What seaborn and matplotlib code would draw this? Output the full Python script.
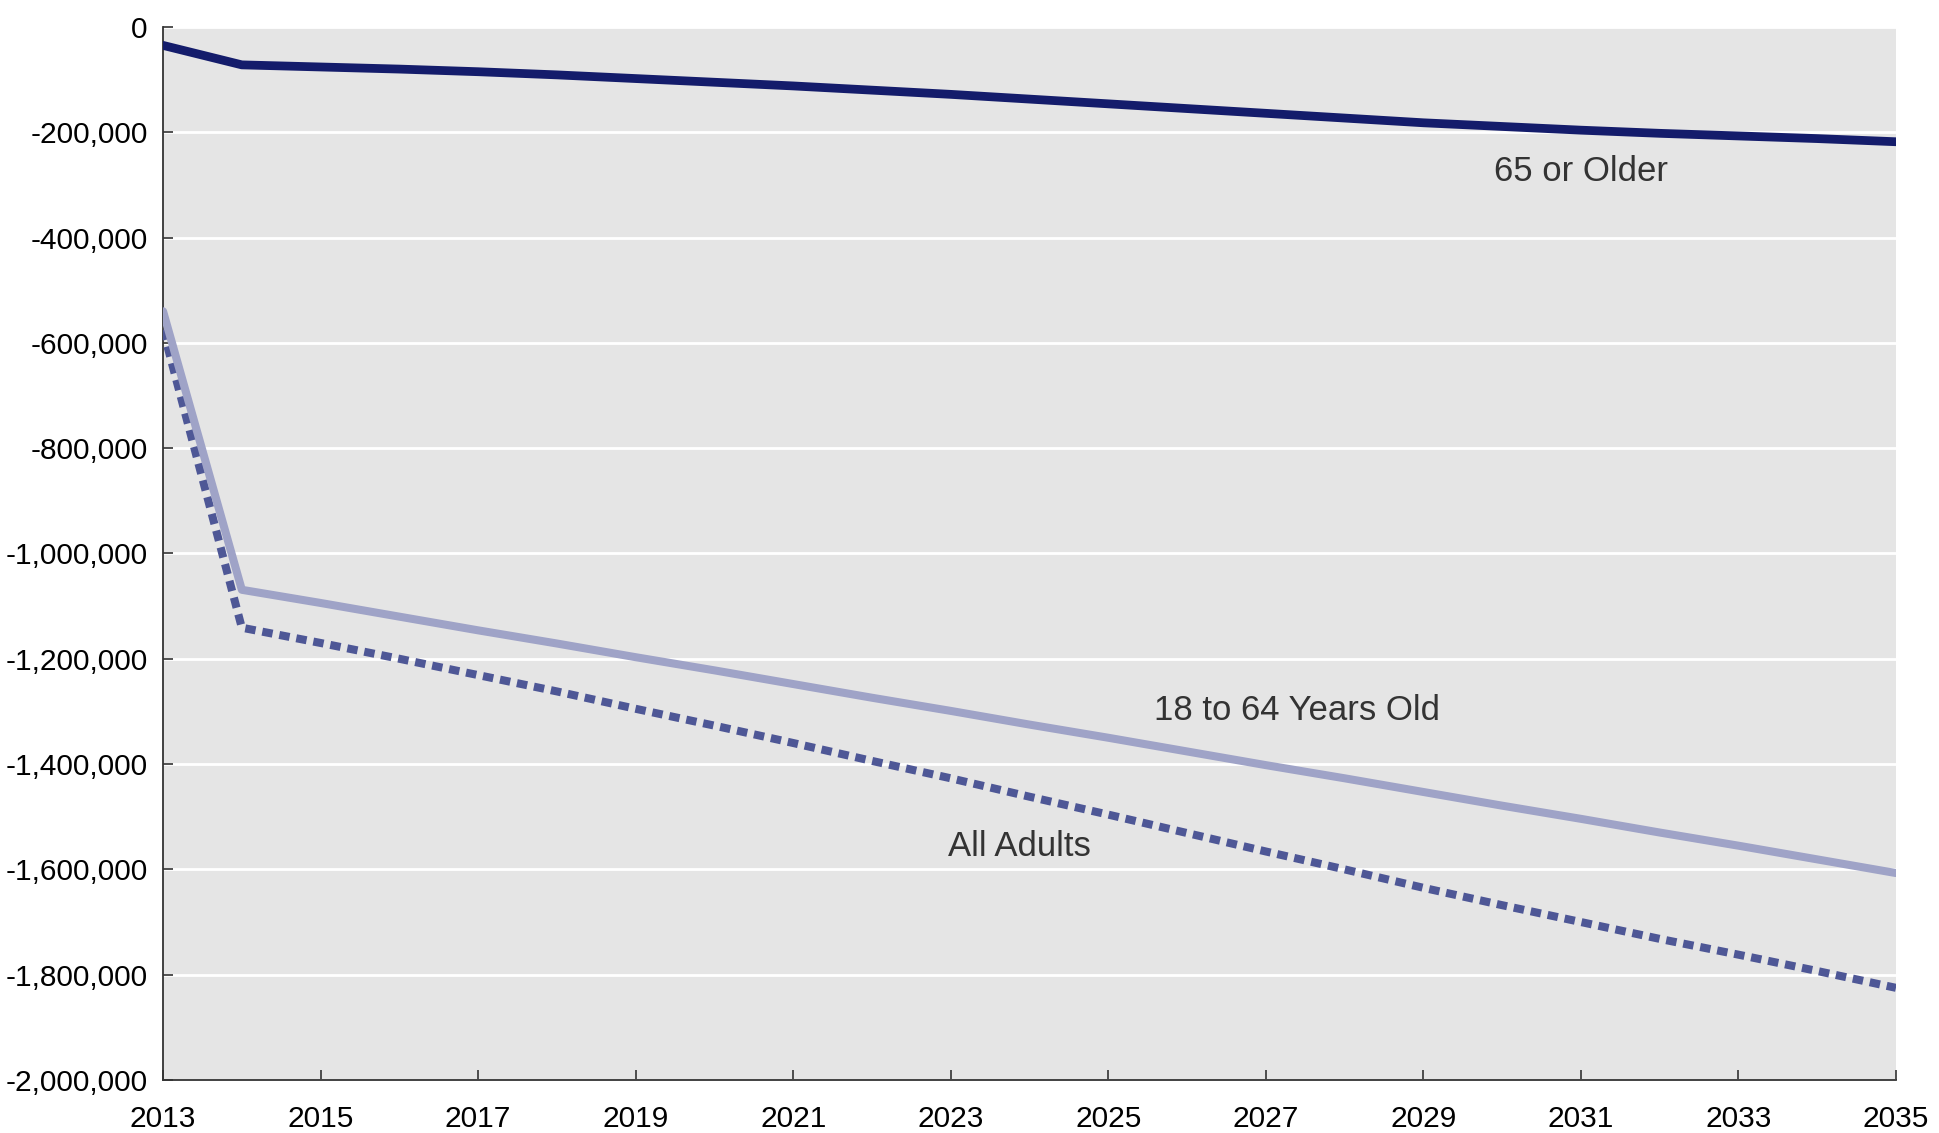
import matplotlib
matplotlib.use("Agg")
import matplotlib.pyplot as plt
import matplotlib.ticker as mticker
import pandas as pd
import seaborn as sns

years = list(range(2013, 2036))

# Change in number of people, by age group
older_65 = [-35000, -72000, -76000, -80000, -85000, -91000, -98000, -105000,
            -112000, -120000, -128000, -137000, -146000, -155000, -164000,
            -173000, -182000, -189000, -196000, -202000, -207000, -212000,
            -218000]
age_18_64 = [-540000, -1069000, -1094000, -1120000, -1146000, -1171000,
             -1197000, -1222000, -1248000, -1274000, -1299000, -1325000,
             -1350000, -1376000, -1402000, -1427000, -1453000, -1479000,
             -1504000, -1530000, -1555000, -1581000, -1607000]
all_adults = [-575000, -1141000, -1170000, -1200000, -1231000, -1262000,
              -1295000, -1327000, -1360000, -1394000, -1427000, -1462000,
              -1496000, -1531000, -1566000, -1600000, -1635000, -1668000,
              -1700000, -1732000, -1762000, -1793000, -1825000]

series_names = ["65 or Older", "18 to 64 Years Old", "All Adults"]
x_ticks = list(range(2013, 2036, 2))
y_ticks = list(range(-2000000, 1, 200000))

df = pd.DataFrame({
    "year": years * 3,
    "value": older_65 + age_18_64 + all_adults,
    "group": [series_names[0]] * len(years)
             + [series_names[1]] * len(years)
             + [series_names[2]] * len(years),
})

sns.set_theme(style="white")
plt.rcParams["font.family"] = ["Liberation Sans", "DejaVu Sans"]

fig = plt.figure(figsize=(19.39, 11.33), dpi=100)
ax = fig.add_axes([0.0841, 0.0468, 0.8937, 0.9294])
ax.set_facecolor("#e5e5e5")

styles = {
    "65 or Older": dict(color="#141c6b", lw=6.3, ls="-", cap="round"),
    "18 to 64 Years Old": dict(color="#9fa3c7", lw=5.8, ls="-", cap="round"),
    "All Adults": dict(color="#4e5796", lw=5.8, ls=(0, (1.3, 0.85)), cap="butt"),
}

for name in ["All Adults", "18 to 64 Years Old", "65 or Older"]:
    st = styles[name]
    sns.lineplot(data=df[df["group"] == name], x="year", y="value", ax=ax,
                 color=st["color"], linewidth=st["lw"], linestyle=st["ls"],
                 solid_capstyle=st["cap"], dash_capstyle=st["cap"],
                 legend=False, zorder=3)

ax.set_xlim(2013, 2035)
ax.set_ylim(-2000000, 0)
ax.set_xticks(x_ticks)
ax.set_yticks(y_ticks)
ax.yaxis.set_major_formatter(mticker.FuncFormatter(lambda v, p: f"{int(v):,}"))
ax.set_xlabel("")
ax.set_ylabel("")

ax.yaxis.grid(True, color="white", linewidth=2)
ax.xaxis.grid(False)
ax.set_axisbelow(True)

for side in ["top", "right"]:
    ax.spines[side].set_visible(False)
for side in ["left", "bottom"]:
    ax.spines[side].set_visible(True)
    ax.spines[side].set_color("#333333")
    ax.spines[side].set_linewidth(1.3)

ax.tick_params(axis="both", direction="in", length=7, width=1.2,
               color="#333333", labelsize=21.5, labelcolor="black")
ax.tick_params(axis="y", pad=11, left=True)
ax.tick_params(axis="x", pad=18, bottom=True)

label_kw = dict(fontsize=25, color="#333333", ha="center", va="center")
ax.text(2031.0, -275000, "65 or Older", **label_kw)
ax.text(2027.4, -1299000, "18 to 64 Years Old", **label_kw)
ax.text(2023.87, -1557000, "All Adults", **label_kw)

fig.savefig("out.png", dpi=100)
